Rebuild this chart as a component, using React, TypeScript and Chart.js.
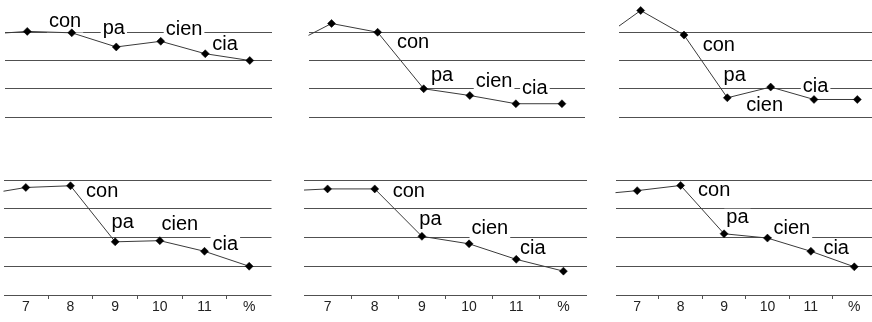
import React, { useEffect, useRef } from 'react';
import { Chart, registerables } from 'chart.js';

Chart.register(...registerables);

const FONT = '"Liberation Sans", Arial, Helvetica, sans-serif';
const LABEL_SIZE = 20;
const TICK_SIZE = 14;
const GRID = '#505050';
const LINE = '#3a3a3a';

// Category axis: the first slot is a lead-in point that sits left of the plot and is clipped away.
const categories = ['6', '7', '8', '9', '10', '11', '%'];
const syllables = ['con', 'pa', 'cien', 'cia'];

// Pitch contours, one per panel (grid units, 0 = bottom gridline).
const contourTopLeft = [2.92, 3.03, 2.98, 2.48, 2.68, 2.24, 2.0];
const contourTopMid = [2.47, 3.31, 3.0, 1.0, 0.76, 0.47, 0.47];
const contourTopRight = [2.67, 3.77, 2.9, 0.68, 1.06, 0.62, 0.62];
const contourBottomLeft = [3.48, 3.74, 3.8, 1.85, 1.89, 1.52, 1.0];
const contourBottomMid = [3.61, 3.69, 3.69, 2.04, 1.78, 1.24, 0.83];
const contourBottomRight = [3.49, 3.63, 3.81, 2.13, 1.98, 1.52, 0.98];

type PanelSpec = {
  values: number[];
  left: number;
  right: number;
  top: number;
  bottom: number;
  axis: boolean;
  // offset of each syllable label (centre x, baseline y) from its point
  offsets: [number, number][];
};

const panels: PanelSpec[] = [
  {
    values: contourTopLeft, left: 5, right: 272, top: 4, bottom: 117, axis: false,
    offsets: [[-6.7, -6.3], [-2.4, -13.3], [23.3, -6.7], [19.8, -3.5]],
  },
  {
    values: contourTopMid, left: 308.5, right: 585, top: 4, bottom: 117, axis: false,
    offsets: [[35.4, 15.7], [18.4, -8.2], [24.3, -9], [19, -9.3]],
  },
  {
    values: contourTopRight, left: 619, right: 879, top: 4, bottom: 117, axis: false,
    offsets: [[34.8, 15.5], [7.4, -16.8], [-6, 23.8], [1.6, -7.5]],
  },
  {
    values: contourBottomLeft, left: 3.5, right: 271.5, top: 180, bottom: 295, axis: true,
    offsets: [[31.7, 11.3], [7.5, -13.8], [20, -10.5], [20.8, -1.7]],
  },
  {
    values: contourBottomMid, left: 304, right: 587, top: 180, bottom: 295, axis: true,
    offsets: [[34, 8], [8.5, -11.7], [20.8, -10], [16.6, -5]],
  },
  {
    values: contourBottomRight, left: 615.5, right: 876, top: 180, bottom: 295, axis: true,
    offsets: [[33.5, 10.8], [13.4, -11], [24.4, -4.3], [25.3, 2.3]],
  },
];

const PAD = 12;
const X_AXIS_HEIGHT = 26;

function geometry(p: PanelSpec) {
  const cLeft = Math.floor(p.left) - PAD;
  const cRight = Math.ceil(p.right) + PAD;
  const cTop = Math.floor(p.top) - PAD;
  const xh = p.axis ? X_AXIS_HEIGHT : 0;
  const cBottom = p.bottom + xh + PAD;
  return {
    cLeft,
    cTop,
    width: cRight - cLeft,
    height: cBottom - cTop,
    padding: { left: p.left - cLeft, right: cRight - p.right, top: p.top - cTop, bottom: PAD },
    xh,
  };
}

function labelPos(chart: any, p: PanelSpec, i: number) {
  const pt = chart.getDatasetMeta(0).data[i + 2];
  return { x: pt.x + p.offsets[i][0], y: pt.y + p.offsets[i][1] };
}

function Panel({ spec }: { spec: PanelSpec }) {
  const ref = useRef<HTMLCanvasElement>(null);
  const g = geometry(spec);

  useEffect(() => {
    if (!ref.current) return;

    const syllableLabels = {
      id: 'syllableLabels',
      beforeDatasetsDraw(chart: any) {
        const ctx = chart.ctx;
        ctx.save();
        ctx.font = `${LABEL_SIZE}px ${FONT}`;
        ctx.fillStyle = '#ffffff';
        syllables.forEach((s, i) => {
          const { x, y } = labelPos(chart, spec, i);
          const w = ctx.measureText(s).width;
          ctx.fillRect(x - w / 2 - 2, y - LABEL_SIZE * 0.7, w + 4, LABEL_SIZE * 0.7 + 6);
        });
        ctx.restore();
      },
      afterDatasetsDraw(chart: any) {
        const ctx = chart.ctx;
        ctx.save();
        ctx.font = `${LABEL_SIZE}px ${FONT}`;
        ctx.fillStyle = '#000000';
        ctx.textAlign = 'center';
        ctx.textBaseline = 'alphabetic';
        syllables.forEach((s, i) => {
          const { x, y } = labelPos(chart, spec, i);
          ctx.fillText(s, x, y);
        });
        ctx.restore();
      },
    };

    const chart = new Chart(ref.current, {
      type: 'line',
      data: {
        labels: categories,
        datasets: [
          {
            data: spec.values,
            borderColor: LINE,
            borderWidth: 1,
            tension: 0,
            pointStyle: 'rectRot',
            pointRadius: spec.values.map((_, i) => (i === 0 ? 0 : 4)),
            pointBackgroundColor: '#000000',
            pointBorderColor: '#000000',
            pointBorderWidth: 0.5,
            clip: { left: 0, right: 10, top: 10, bottom: 10 },
          },
        ],
      },
      options: {
        responsive: false,
        animation: false,
        events: [],
        layout: { padding: g.padding },
        plugins: { legend: { display: false }, tooltip: { enabled: false } },
        scales: {
          x: {
            type: 'category',
            min: '7',
            offset: true,
            border: { display: false },
            grid: {
              display: spec.axis,
              offset: true,
              drawOnChartArea: false,
              drawTicks: true,
              tickLength: 4,
              lineWidth: 1,
              color: (c: any) => (c.index === undefined || c.index === 0 ? 'rgba(0,0,0,0)' : GRID),
            },
            ticks: {
              display: spec.axis,
              padding: 0,
              color: '#222222',
              autoSkip: false,
              maxRotation: 0,
              font: { family: FONT, size: TICK_SIZE },
            },
            afterFit: (s: any) => {
              s.height = g.xh;
            },
          },
          y: {
            min: 0,
            max: 4,
            border: { display: false },
            grid: {
              drawTicks: false,
              lineWidth: 1,
              color: (c: any) =>
                !spec.axis && c.tick && c.tick.value === 4 ? 'rgba(0,0,0,0)' : GRID,
            },
            ticks: { display: false, stepSize: 1 },
            afterFit: (s: any) => {
              s.width = 0;
            },
          },
        },
      },
      plugins: [syllableLabels],
    });
    return () => chart.destroy();
  }, [spec]);

  return (
    <canvas
      ref={ref}
      width={g.width}
      height={g.height}
      style={{ position: 'absolute', left: g.cLeft, top: g.cTop, width: g.width, height: g.height }}
    />
  );
}

export default function App() {
  return (
    <div
      style={{
        position: 'fixed',
        left: 0,
        top: 0,
        width: 872,
        height: 322,
        overflow: 'hidden',
        background: '#ffffff',
      }}
    >
      {panels.map((p, i) => (
        <Panel key={i} spec={p} />
      ))}
    </div>
  );
}
